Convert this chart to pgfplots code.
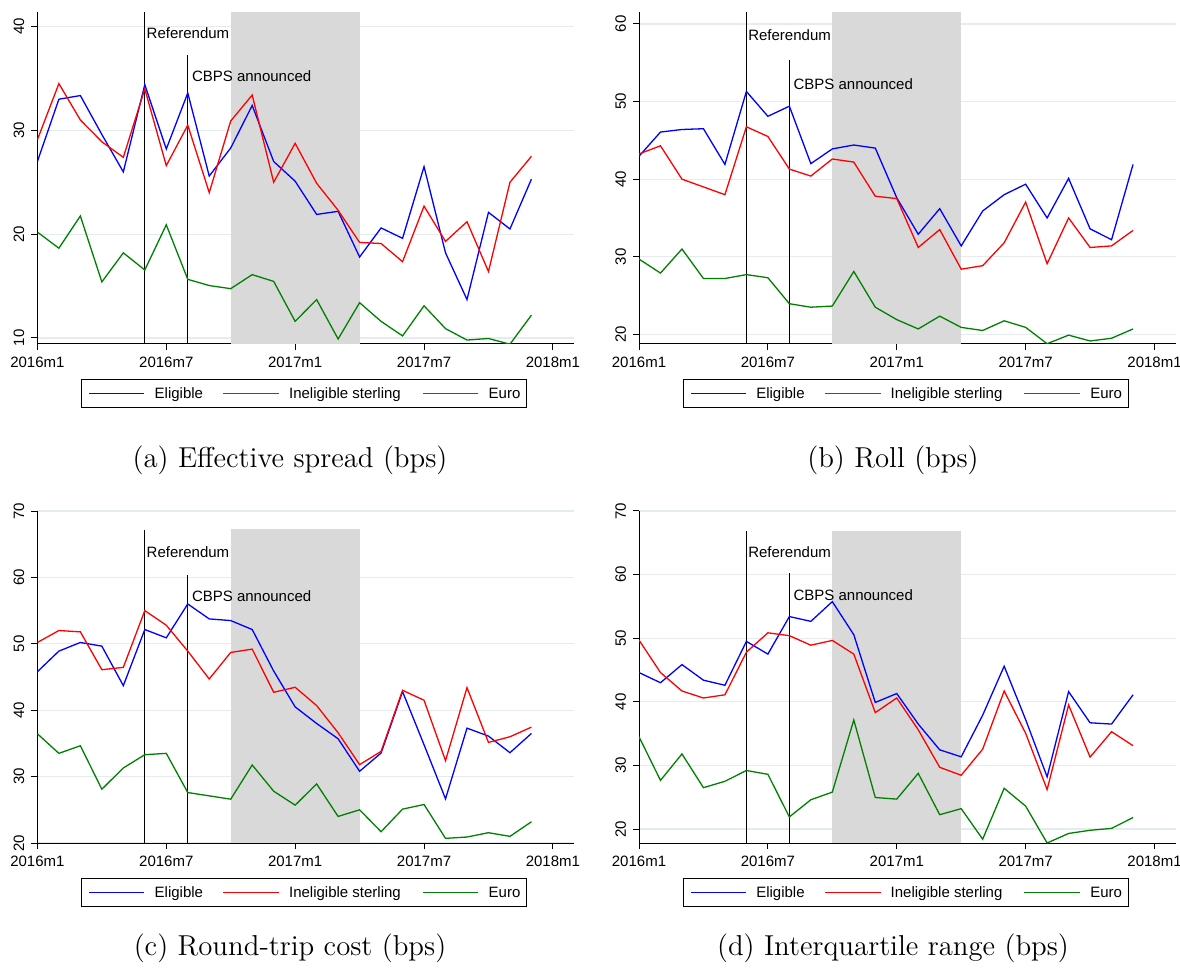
\documentclass[border=0pt]{standalone}
\usepackage{fontspec}
\usepackage{pgfplots}
\usepackage{pgfplotstable}
\pgfplotsset{compat=1.18}
\newfontfamily\arial{Liberation Sans}
\newcommand\sm{\arial\fontsize{7.5}{9}\selectfont}

\definecolor{gridc}{RGB}{228,236,238}
\definecolor{shadec}{RGB}{217,217,217}
\definecolor{sblue}{RGB}{0,0,255}
\definecolor{sred}{RGB}{255,0,0}
\definecolor{sgreen}{RGB}{0,128,0}

% monthly values, t = 0 is 2016m1
\pgfplotstableread{
t elig inel euro
0 27.0 29.1 20.2
1 33.0 34.5 18.65
2 33.35 31.0 21.75
3 29.6 28.9 15.4
4 26.0 27.4 18.2
5 34.4 34.0 16.55
6 28.2 26.6 20.9
7 33.6 30.5 15.65
8 25.6 24.0 15.05
9 28.3 30.9 14.75
10 32.4 33.4 16.1
11 27.0 25.0 15.45
12 25.1 28.75 11.6
13 21.9 24.9 13.7
14 22.2 22.3 9.9
15 17.8 19.2 13.4
16 20.6 19.1 11.6
17 19.6 17.35 10.2
18 26.5 22.7 13.1
19 18.2 19.3 10.9
20 13.7 21.2 9.8
21 22.1 16.4 9.95
22 20.5 25.0 9.4
23 25.3 27.5 12.2
}\effspread

\pgfplotstableread{
t elig inel euro
0 42.95 43.25 29.7
1 46.07 44.3 27.9
2 46.4 40.0 31.0
3 46.5 39.0 27.2
4 41.9 38.0 27.2
5 51.3 46.75 27.7
6 48.1 45.5 27.3
7 49.4 41.3 23.95
8 42.0 40.4 23.5
9 43.9 42.6 23.65
10 44.4 42.2 28.1
11 44.0 37.8 23.5
12 37.6 37.5 21.9
13 32.9 31.2 20.7
14 36.2 33.5 22.35
15 31.4 28.4 20.9
16 35.9 28.85 20.5
17 38.0 31.8 21.75
18 39.35 37.05 20.9
19 35.0 29.1 18.8
20 40.1 35.0 19.9
21 33.6 31.2 19.15
22 32.2 31.4 19.5
23 41.9 33.4 20.7
}\rolltab

\pgfplotstableread{
t elig inel euro
0 45.8 50.2 36.45
1 48.9 52.0 33.5
2 50.2 51.8 34.65
3 49.65 46.1 28.1
4 43.7 46.45 31.3
5 52.15 55.0 33.3
6 50.9 52.8 33.5
7 56.0 48.9 27.6
8 53.75 44.7 27.1
9 53.5 48.7 26.6
10 52.15 49.2 31.75
11 45.9 42.7 27.8
12 40.5 43.45 25.7
13 38.0 40.7 28.9
14 35.7 36.6 24.0
15 30.8 31.8 25.0
16 33.55 33.8 21.7
17 42.8 43.0 25.1
18 34.8 41.5 25.8
19 26.65 32.4 20.7
20 37.3 43.4 20.9
21 36.1 35.15 21.55
22 33.6 36.0 21.0
23 36.5 37.45 23.2
}\roundtab

\pgfplotstableread{
t elig inel euro
0 44.6 49.7 34.5
1 43.0 44.6 27.65
2 45.85 41.7 31.8
3 43.4 40.6 26.5
4 42.6 41.1 27.5
5 49.5 47.8 29.2
6 47.5 50.85 28.6
7 53.4 50.4 21.9
8 52.65 48.9 24.6
9 55.75 49.65 25.8
10 50.55 47.5 37.15
11 39.9 38.3 24.95
12 41.3 40.6 24.7
13 36.5 35.6 28.75
14 32.45 29.7 22.25
15 31.35 28.45 23.2
16 37.9 32.55 18.4
17 45.6 41.7 26.4
18 37.2 35.05 23.6
19 28.2 26.2 17.8
20 41.6 39.5 19.3
21 36.7 31.3 19.8
22 36.5 35.3 20.1
23 41.1 33.1 21.8
}\iqrtab

\tikzset{
  eli/.style={draw=sblue, line width=0.65pt},
  ine/.style={draw=sred, line width=0.65pt},
  eur/.style={draw=sgreen, line width=0.65pt},
}

\pgfplotsset{
  stata/.style={
    scale only axis, width=268.5pt, height=166pt,
    anchor=south west,
    xmin=0, xmax=25,
    axis x line*=bottom, axis y line*=left,
    axis line style={black, line width=0.5pt},
    tick align=outside, major tick length=3pt,
    tick style={black, line width=0.5pt},
    xtick={0,6,12,18,24},
    xticklabels={2016m1,2016m7,2017m1,2017m7,2018m1},
    ymajorgrids, grid style={gridc, line width=0.6pt},
    /pgf/number format/assume math mode=true,
    tick label style={font=\sm},
    yticklabel style={rotate=90, anchor=south},
  },
  % the key box is a small axis of its own, measured in pt
  keybox/.style={
    scale only axis, width=222.35pt, height=14.2pt,
    anchor=south west, clip=false,
    xmin=0, xmax=222.35, ymin=0, ymax=14.2,
    xtick=\empty, ytick=\empty,
    axis line style={black, line width=0.5pt},
  },
}

% #1 = left edge of plot area, #2 = bottom of plot area
\newcommand\statakey[2]{%
  \begin{axis}[keybox, at={(#1+22.3pt,#2-31.85pt)}]
    \addplot[fill=sblue, draw=none] coordinates {(3.65,6.78) (31.15,6.78) (31.15,7.42) (3.65,7.42)} -- cycle;
    \addplot[fill=sred, draw=none] coordinates {(70.65,6.78) (98.65,6.78) (98.65,7.42) (70.65,7.42)} -- cycle;
    \addplot[fill=sgreen, draw=none] coordinates {(170.35,6.78) (198.15,6.78) (198.15,7.42) (170.35,7.42)} -- cycle;
    \node[anchor=base west, inner sep=0pt, font=\sm] at (axis cs:36.15,4.4) {Eligible};
    \node[anchor=base west, inner sep=0pt, font=\sm] at (axis cs:103.35,4.4) {Ineligible sterling};
    \node[anchor=base west, inner sep=0pt, font=\sm] at (axis cs:203.15,4.4) {Euro};
  \end{axis}}

\begin{document}
\begin{tikzpicture}
\path[use as bounding box] (0,0) rectangle (590pt,485.5pt);

% (a)
\begin{axis}[stata, at={(18.7pt,313.5pt)}, ymin=9.42, ymax=41.4, ytick={10,20,30,40}]
\addplot[fill=shadec, draw=none] coordinates {(9,9.42) (9,41.4) (15,41.4) (15,9.42)} -- cycle;
\addplot[draw=black, line width=0.5pt] coordinates {(5,9.42) (5,41.4)};
\addplot[draw=black, line width=0.7pt] coordinates {(7,9.42) (7,37.3)};
\addplot[eli] table[x=t, y=elig] {\effspread};
\addplot[ine] table[x=t, y=inel] {\effspread};
\addplot[eur] table[x=t, y=euro] {\effspread};
\node[anchor=west, inner sep=0pt, font=\sm] at (axis cs:5.07,39.4) {Referendum};
\node[anchor=west, inner sep=0pt, font=\sm] at (axis cs:7.18,35.24) {CBPS announced};
\end{axis}
\statakey{18.7pt}{313.5pt}

% (b)
\begin{axis}[stata, at={(319.5pt,313.5pt)}, ymin=18.76, ymax=61.54, ytick={20,30,40,50,60}]
\addplot[fill=shadec, draw=none] coordinates {(9,18.76) (9,61.54) (15,61.54) (15,18.76)} -- cycle;
\addplot[draw=black, line width=0.5pt] coordinates {(5,18.76) (5,61.54)};
\addplot[draw=black, line width=0.5pt] coordinates {(7,18.76) (7,55.4)};
\addplot[eli] table[x=t, y=elig] {\rolltab};
\addplot[ine] table[x=t, y=inel] {\rolltab};
\addplot[eur] table[x=t, y=euro] {\rolltab};
\node[anchor=west, inner sep=0pt, font=\sm] at (axis cs:5.07,58.5) {Referendum};
\node[anchor=west, inner sep=0pt, font=\sm] at (axis cs:7.18,52.2) {CBPS announced};
\end{axis}
\statakey{319.5pt}{313.5pt}

% (c)
\begin{axis}[stata, at={(18.7pt,64pt)}, ymin=20, ymax=70, ytick={20,30,40,50,60,70}]
\addplot[fill=shadec, draw=none] coordinates {(9,20) (9,67.3) (15,67.3) (15,20)} -- cycle;
\addplot[draw=black, line width=0.5pt] coordinates {(5,20) (5,67.2)};
\addplot[draw=black, line width=0.7pt] coordinates {(7,20) (7,60.4)};
\addplot[eli] table[x=t, y=elig] {\roundtab};
\addplot[ine] table[x=t, y=inel] {\roundtab};
\addplot[eur] table[x=t, y=euro] {\roundtab};
\node[anchor=west, inner sep=0pt, font=\sm] at (axis cs:5.07,63.8) {Referendum};
\node[anchor=west, inner sep=0pt, font=\sm] at (axis cs:7.18,57.2) {CBPS announced};
\end{axis}
\statakey{18.7pt}{64pt}

% (d)
\begin{axis}[stata, at={(319.5pt,64pt)}, ymin=17.8, ymax=70, ytick={20,30,40,50,60,70}]
\addplot[fill=shadec, draw=none] coordinates {(9,17.8) (9,66.9) (15,66.9) (15,17.8)} -- cycle;
\addplot[draw=black, line width=0.5pt] coordinates {(5,17.8) (5,66.9)};
\addplot[draw=black, line width=0.5pt] coordinates {(7,17.8) (7,60.2)};
\addplot[eli] table[x=t, y=elig] {\iqrtab};
\addplot[ine] table[x=t, y=inel] {\iqrtab};
\addplot[eur] table[x=t, y=euro] {\iqrtab};
\node[anchor=west, inner sep=0pt, font=\sm] at (axis cs:5.07,63.5) {Referendum};
\node[anchor=west, inner sep=0pt, font=\sm] at (axis cs:7.18,56.7) {CBPS announced};
\end{axis}
\statakey{319.5pt}{64pt}

\node[font=\fontsize{14.4}{17}\selectfont] at (145pt,255.5pt) {(a) Effective spread (bps)};
\node[font=\fontsize{14.4}{17}\selectfont] at (446.5pt,255.5pt) {(b) Roll (bps)};
\node[font=\fontsize{14.4}{17}\selectfont] at (145pt,11.5pt) {(c) Round-trip cost (bps)};
\node[font=\fontsize{14.4}{17}\selectfont] at (446.5pt,11.5pt) {(d) Interquartile range (bps)};
\end{tikzpicture}
\end{document}
